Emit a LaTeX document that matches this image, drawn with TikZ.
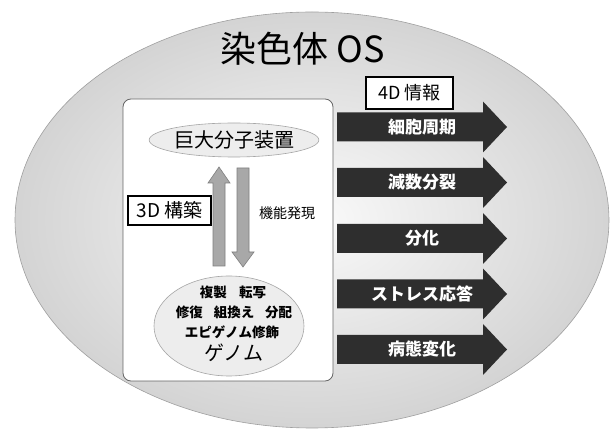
\documentclass[tikz,border=0pt]{standalone}
\usepackage{fontspec}
\setmainfont{Noto Sans CJK JP}
\usetikzlibrary{shapes.geometric}
\definecolor{arrowdark}{HTML}{2E2E2E}
\definecolor{blockgray}{HTML}{A8A8A8}
\definecolor{blockedge}{HTML}{7F7F7F}
\definecolor{ellfill}{HTML}{EDEDED}
\tikzset{
  labelbox/.style={draw=black, line width=2.6pt, fill=white, inner sep=0pt, minimum width=#1},
  softell/.style={ellipse, draw=gray!70, line width=0.6pt, fill=ellfill, inner sep=0pt},
  blockarrow/.style={fill=blockgray, draw=blockedge, line width=0.6pt},
  darkarrow/.style={fill=arrowdark, draw=none},
  arrowtext/.style={text=white, font=\fontsize{17}{20}\selectfont\bfseries},
  genomeline/.style={font=\fontsize{13.5}{16}\selectfont\bfseries},
}
\begin{document}
\begin{tikzpicture}[x=1pt,y=-1pt]
\useasboundingbox (0,0) rectangle (614,430);
% outer ellipse
\shade[inner color=gray!4, outer color=gray!34, draw=gray!75, line width=0.6pt]
  (312,220) ellipse [x radius=297, y radius=208];
\node (title) at (303,49) {\fontsize{36}{40}\selectfont 染色体 OS};
% inner box
\draw[fill=white, draw=gray!80!black, line width=0.8pt, rounded corners=8pt]
  (123,99) rectangle (333,381);
\node[softell, minimum width=153pt, minimum height=34pt] (complex) at (234,140)
  {\fontsize{20}{22}\selectfont 巨大分子装置};
\node[softell, minimum width=150pt, minimum height=100pt] (genome) at (229,326) {};
\node[genomeline] (g1) at (233,292) {複製\hspace{0.9em}転写};
\node[genomeline] (g2) at (234,312) {修復\hspace{0.8em}組換え\hspace{0.8em}分配};
\node[genomeline] (g3) at (232,332) {エピゲノム修飾};
\node (g4) at (234,353) {\fontsize{20}{22}\selectfont ゲノム};
% up arrow
\draw[blockarrow] (219,167) -- (230,183) -- (225,183) -- (225,266) -- (213,266)
  -- (213,183) -- (208,183) -- cycle;
% down arrow
\draw[blockarrow] (237,168) -- (249,168) -- (249,252) -- (254,252) -- (243,267)
  -- (232,252) -- (237,252) -- cycle;
\node[labelbox=83pt, minimum height=29pt] (build3d) at (169.5,210.5)
  {\fontsize{19}{21}\selectfont 3D 構築};
\node (expr) at (287,213) {\fontsize{14}{16}\selectfont 機能発現};
% right arrows
\foreach \yy/\txt/\nm in {127/細胞周期/a1, 182.5/減数分裂/a2, 238.5/分化/a3, 294/ストレス応答/a4, 349.5/病態変化/a5}{
  \fill[darkarrow] (337,\yy-14.5) -- (483,\yy-14.5) -- (483,\yy-25.5) -- (507,\yy)
    -- (483,\yy+25.5) -- (483,\yy+14.5) -- (337,\yy+14.5) -- cycle;
  \node[arrowtext] (\nm) at (422,\yy) {\txt};
}
\node[labelbox=87pt, minimum height=32pt] (info4d) at (409.5,93)
  {\fontsize{18}{20}\selectfont 4D 情報};
\end{tikzpicture}
\end{document}
